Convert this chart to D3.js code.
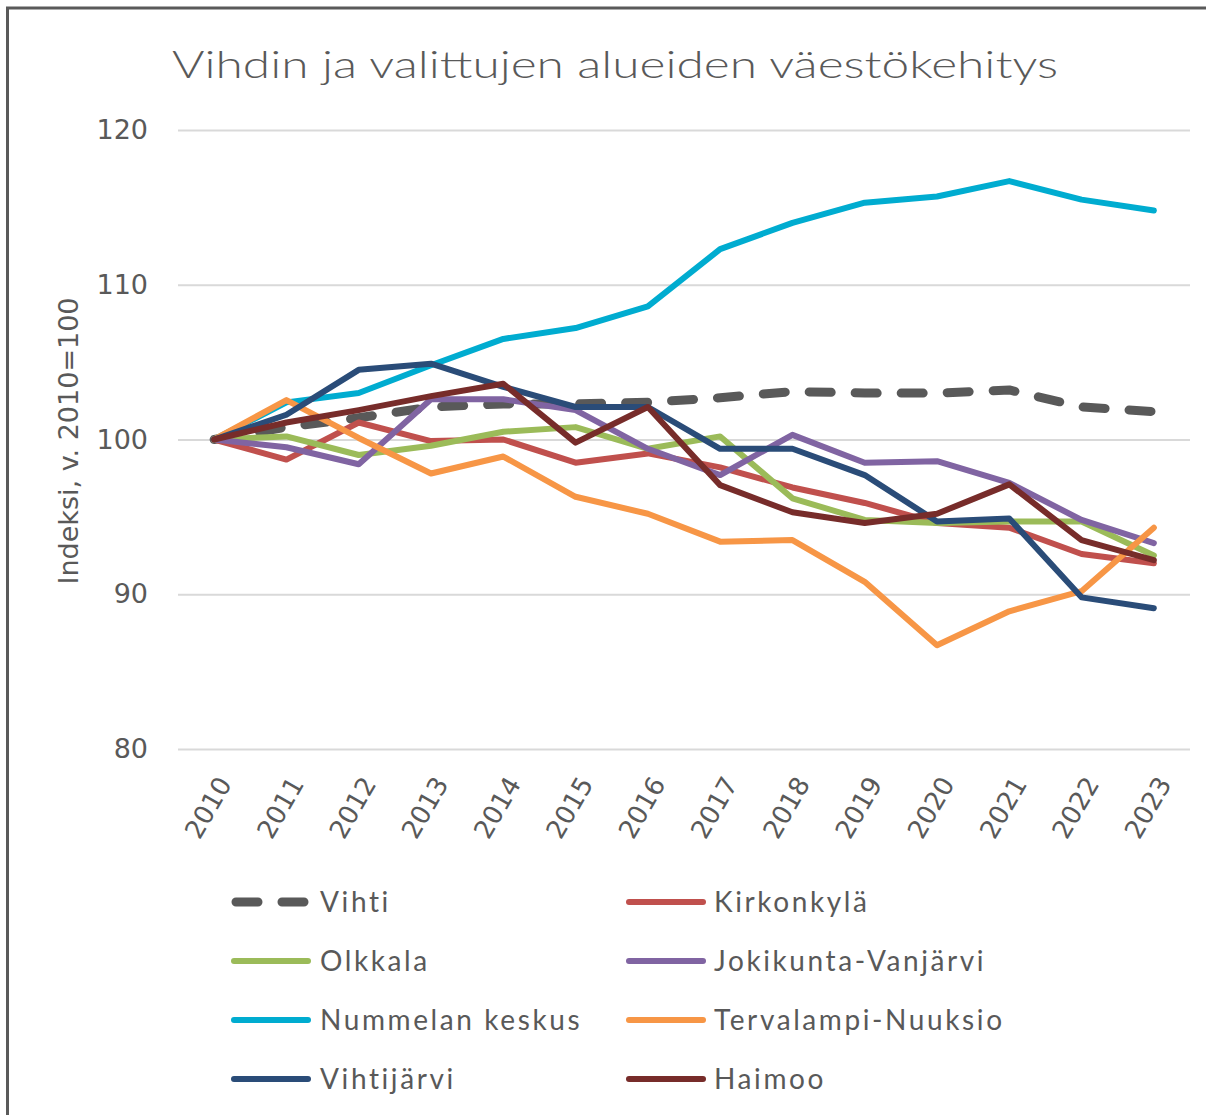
<!DOCTYPE html>
<html>
<head>
<meta charset="utf-8">
<script src="https://cdn.jsdelivr.net/npm/d3@7"></script>
<style>
  body { margin: 0; background: #fff; }
  svg { display: block; }
</style>
</head>
<body>
<div id="main"></div>
<script>
// Sizes
var svgWidth = 1206;
var svgHeight = 1115;

var plot = {l: 178, r: 1190, t: 130, b: 749};

// Data
var years = ['2010', '2011', '2012', '2013', '2014', '2015', '2016', '2017', '2018', '2019', '2020', '2021', '2022', '2023'];
var seriesNames = ['Vihti', 'Kirkonkylä', 'Olkkala', 'Jokikunta-Vanjärvi', 'Nummelan keskus', 'Tervalampi-Nuuksio', 'Vihtijärvi', 'Haimoo'];

var vihti        = [100, 100.8, 101.4, 102.1, 102.3, 102.3, 102.4, 102.7, 103.1, 103.0, 103.0, 103.2, 102.1, 101.8];
var kirkonkyla   = [100, 98.7, 101.1, 99.9, 100.0, 98.5, 99.1, 98.2, 96.9, 95.9, 94.6, 94.3, 92.6, 92.0];
var olkkala      = [100, 100.2, 99.0, 99.6, 100.5, 100.8, 99.4, 100.2, 96.2, 94.8, 94.6, 94.7, 94.7, 92.5];
var jokikunta    = [100, 99.5, 98.4, 102.6, 102.6, 101.9, 99.4, 97.7, 100.3, 98.5, 98.6, 97.2, 94.8, 93.3];
var nummela      = [100, 102.4, 103.0, 104.8, 106.5, 107.2, 108.6, 112.3, 114.0, 115.3, 115.7, 116.7, 115.5, 114.8];
var tervalampi   = [100, 102.55, 100.1, 97.8, 98.9, 96.3, 95.2, 93.4, 93.5, 90.8, 86.7, 88.9, 90.2, 94.3];
var vihtijarvi   = [100, 101.6, 104.5, 104.9, 103.4, 102.1, 102.1, 99.4, 99.4, 97.7, 94.7, 94.9, 89.8, 89.1];
var haimoo       = [100, 101.1, 101.9, 102.8, 103.6, 99.8, 102.1, 97.05, 95.3, 94.6, 95.2, 97.1, 93.5, 92.2];

var yTicks = [80, 90, 100, 110, 120];

var seriesValues = [vihti, kirkonkyla, olkkala, jokikunta, nummela, tervalampi, vihtijarvi, haimoo];
var seriesColors = ['#595959', '#c0504d', '#9bbb59', '#8064a2', '#00acd0', '#f79646', '#2a4c78', '#772c2a'];

var textColor = '#595959';

var svg = d3.select('#main')
  .append('svg')
  .attr('width', svgWidth)
  .attr('height', svgHeight);

// frame (top and left edges visible)
svg.append('path')
  .attr('d', 'M7.5,' + svgHeight + ' V8 H' + svgWidth)
  .attr('fill', 'none')
  .attr('stroke', '#5a5a5a')
  .attr('stroke-width', 3);

// Title
svg.append('text')
  .attr('x', 172)
  .attr('y', 78)
  .attr('textLength', 886)
  .attr('lengthAdjust', 'spacingAndGlyphs')
  .style('font-family', 'Lato, "Noto Sans", sans-serif')
  .style('font-weight', 300)
  .style('font-size', '38px')
  .style('fill', textColor)
  .text('Vihdin ja valittujen alueiden väestökehitys');

// Scales
var xScale = d3.scalePoint().domain(years).range([plot.l, plot.r]).padding(0.5);
var yScale = d3.scaleLinear().domain([80, 120]).range([plot.b, plot.t]);

// gridlines + y labels
var yAxis = d3.axisLeft(yScale)
  .tickValues(yTicks)
  .tickSize(-(plot.r - plot.l))
  .tickPadding(30)
  .tickFormat(d3.format('d'));

var yG = svg.append('g')
  .attr('transform', 'translate(' + plot.l + ',0)')
  .call(yAxis);
yG.select('.domain').remove();
yG.selectAll('.tick line').attr('stroke', '#d9d9d9').attr('stroke-width', 2);
yG.selectAll('.tick text')
  .style('font-family', '"DejaVu Sans", Verdana, sans-serif')
  .style('font-size', '27px')
  .style('fill', textColor);

// y-axis title
svg.append('text')
  .attr('transform', 'translate(78,441) rotate(-90)')
  .attr('text-anchor', 'middle')
  .style('font-family', '"DejaVu Sans", Verdana, sans-serif')
  .style('font-size', '27px')
  .style('fill', textColor)
  .text('Indeksi, v. 2010=100');

// x-axis labels
var xAxis = d3.axisBottom(xScale).tickSize(0).tickPadding(0);
var xG = svg.append('g')
  .attr('transform', 'translate(0,' + plot.b + ')')
  .call(xAxis);
xG.select('.domain').remove();
xG.selectAll('.tick text')
  .attr('text-anchor', 'end')
  .attr('dy', '0.35em')
  .attr('transform', 'translate(10,30) rotate(-60)')
  .style('font-family', '"DejaVu Sans", Verdana, sans-serif')
  .style('font-size', '26px')
  .style('fill', textColor);

// Lines
var line = d3.line()
  .x(function(d, i) { return xScale(years[i]); })
  .y(function(d) { return yScale(d); })
  .curve(d3.curveLinear);

svg.selectAll('.series')
  .data(seriesValues)
  .enter()
  .append('path')
  .attr('class', 'series')
  .attr('d', line)
  .attr('fill', 'none')
  .attr('stroke', function(d, i) { return seriesColors[i]; })
  .attr('stroke-width', function(d, i) { return i === 0 ? 9 : 6; })
  .attr('stroke-linejoin', 'round')
  .attr('stroke-linecap', 'round')
  .attr('stroke-dasharray', function(d, i) { return i === 0 ? '22,24' : null; });

// Legend (2 columns, row-major)
var legendCols = [{lineX: 232, textX: 320}, {lineX: 627, textX: 714}];
var legendRows = [902, 961, 1020, 1079];

var legend = svg.selectAll('.legend-item')
  .data(seriesNames)
  .enter()
  .append('g')
  .attr('class', 'legend-item')
  .attr('transform', function(d, i) {
    return 'translate(0,' + legendRows[Math.floor(i / 2)] + ')';
  });

legend.append('line')
  .attr('x1', function(d, i) { return legendCols[i % 2].lineX + (i === 0 ? 4 : 2); })
  .attr('x2', function(d, i) { return legendCols[i % 2].lineX + 76; })
  .attr('y1', 0)
  .attr('y2', 0)
  .attr('stroke', function(d, i) { return seriesColors[i]; })
  .attr('stroke-width', function(d, i) { return i === 0 ? 9 : 6; })
  .attr('stroke-linecap', 'round')
  .attr('stroke-dasharray', function(d, i) { return i === 0 ? '22,24' : null; });

legend.append('text')
  .attr('x', function(d, i) { return legendCols[i % 2].textX; })
  .attr('y', 0)
  .attr('dy', '0.36em')
  .style('font-family', 'Lato, "Noto Sans", sans-serif')
  .style('font-size', '28px')
  .style('letter-spacing', '2.6px')
  .style('fill', textColor)
  .text(function(d) { return d; });
</script>
</body>
</html>
